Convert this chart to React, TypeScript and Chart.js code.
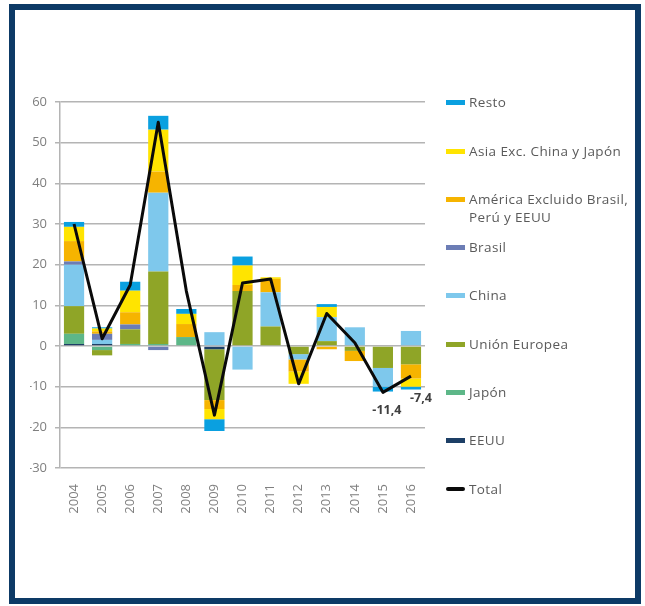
import React, { useEffect, useRef } from "react";
import { Chart, registerables } from "chart.js";

Chart.register(...registerables);

const years = ["2004","2005","2006","2007","2008","2009","2010","2011","2012","2013","2014","2015","2016"];
const eeuu =    [0.5, 0.5, 0,   0,    0,   -0.8, 0,    0,   0,    0,    0,    0,    0];
const japon =   [2.5, -1,  0.5, 0.5,  2.2, 0,    0,    0,   0,    0,    0,    0,    0];
const ue =      [6.8, -1.3,3.6, 17.8, 0,   -12.5,13.5, 4.8, -2,   1.2,  -1.2, -5.4, -4.5];
const china =   [10.2,1,   0,   19.4, 0,   3.4,  -5.8, 8.4, -1.3, 5.9,  4.6,  -4.6, 3.7];
const brasil =  [0.8, 1.5, 1.2, -1,   0,   0,    0,    0,   0,    0,    0,    0,    0];
const america = [5,   0.6, 3,   5.2,  3.2, -2.2, 1.5,  3.3, -3,   -0.8, -2.5, 0,    -3.5];
const asia =    [3.5, 0.7, 5.3, 10.3, 2.5, -2.5, 4.8,  0.4, -3,   2.5,  0,    0,    -2];
const resto =   [1.2, 0.3, 2.2, 3.4,  1.2, -2.9, 2.2,  0,   0,    0.7,  0,    -1.2, -0.7];
const total =   [30,  1.8, 15,  55,   13.5,-17,  15.5, 16.5,-9.3, 8,    0.8,  -11.4,-7.4];
const yTicks = [-30, -20, -10, 0, 10, 20, 30, 40, 50, 60];
const pointLabels = [{ index: 11, text: "-11,4", dx: 4, dy: 18 }, { index: 12, text: "-7,4", dx: 10, dy: 22 }];

const legendItems = [
  { label: ["Resto"], color: "#0aa0e0", y: 102 },
  { label: ["Asia Exc. China y Japón"], color: "#ffe400", y: 151 },
  { label: ["América Excluido Brasil,", "Perú y EEUU"], color: "#f6b400", y: 199 },
  { label: ["Brasil"], color: "#6c7db5", y: 247 },
  { label: ["China"], color: "#7ec8ec", y: 295 },
  { label: ["Unión Europea"], color: "#8fa527", y: 344 },
  { label: ["Japón"], color: "#5db788", y: 392 },
  { label: ["EEUU"], color: "#1d3f66", y: 440 },
  { label: ["Total"], color: "#0a0a0a", y: 489, line: true },
];

export default function App() {
  const ref = useRef<HTMLCanvasElement>(null);
  useEffect(() => {
    const ctx = ref.current!.getContext("2d")!;
    const bar = (label: string, data: number[], color: string) => ({
      type: "bar" as const,
      label,
      data,
      backgroundColor: color,
      borderWidth: 0,
      stack: "s",
      order: 1,
      categoryPercentage: 1,
      barPercentage: 0.72,
    });
    const labelPlugin = {
      id: "pointLabels",
      afterDatasetsDraw(chart: any) {
        const meta = chart.getDatasetMeta(8);
        const c = chart.ctx;
        c.save();
        c.font = "bold 12.5px 'Open Sans', sans-serif";
        c.fillStyle = "#404040";
        c.textAlign = "center";
        c.textBaseline = "middle";
        pointLabels.forEach((p) => {
          const pt = meta.data[p.index];
          c.fillText(p.text, pt.x + p.dx, pt.y + p.dy);
        });
        c.restore();
      },
    };
    const tickFont = { family: "'Open Sans', sans-serif", size: 13 };
    const chart = new Chart(ctx, {
      type: "bar",
      data: {
        labels: years,
        datasets: [
          bar("EEUU", eeuu, "#1d3f66"),
          bar("Japón", japon, "#5db788"),
          bar("Unión Europea", ue, "#8fa527"),
          bar("China", china, "#7ec8ec"),
          bar("Brasil", brasil, "#6c7db5"),
          bar("América Excluido Brasil, Perú y EEUU", america, "#f6b400"),
          bar("Asia Exc. China y Japón", asia, "#ffe400"),
          bar("Resto", resto, "#0aa0e0"),
          {
            type: "line" as const,
            label: "Total",
            data: total,
            borderColor: "#0a0a0a",
            backgroundColor: "#0a0a0a",
            borderWidth: 3,
            pointRadius: 0,
            tension: 0,
            stack: "total",
            order: 0,
            borderJoinStyle: "round" as const,
          } as any,
        ],
      },
      options: {
        responsive: false,
        animation: false,
        layout: { padding: { left: 30, top: 102, right: 220, bottom: 88 } },
        plugins: { legend: { display: false }, tooltip: { enabled: false } },
        scales: {
          x: {
            stacked: true,
            grid: { display: false },
            border: { display: false },
            ticks: {
              minRotation: 90,
              maxRotation: 90,
              padding: 8,
              color: "#7f7f7f",
              font: tickFont,
            },
            afterFit: (s: any) => { s.height = 50; },
          },
          y: {
            stacked: true,
            min: -30,
            max: 60,
            afterBuildTicks: (s: any) => { s.ticks = yTicks.map((v) => ({ value: v })); },
            grid: { color: "#b4b4b4", lineWidth: 1.5, tickLength: 5, drawTicks: true },
            border: { display: true, color: "#b4b4b4", width: 1.5 },
            ticks: {
              padding: 8,
              color: "#7f7f7f",
              font: tickFont,
            },
            afterFit: (s: any) => { s.width = 30; },
          },
        },
      },
      plugins: [labelPlugin],
    });
    return () => chart.destroy();
  }, []);

  return (
    <div style={{ position: "fixed", left: 0, top: 0, width: 645, height: 606, background: "#fff", overflow: "hidden" }}>
      <div style={{ position: "absolute", left: 9, top: 4, width: 620, height: 588, border: "6px solid #0d3a66" }} />
      <canvas ref={ref} width={645} height={606} style={{ position: "absolute", left: 0, top: 0, width: 645, height: 606 }} />
      {legendItems.map((it, i) => (
        <div key={i} style={{ position: "absolute", left: 446, top: it.y - 9, fontFamily: "'Open Sans', sans-serif", fontSize: 13.5, letterSpacing: 0.4, color: "#5a5a5a", lineHeight: "18px", whiteSpace: "nowrap" }}>
          <span style={{ position: "absolute", left: 0, top: 7, width: 19, height: it.line ? 4 : 5, background: it.color, borderRadius: it.line ? 2 : 0 }} />
          {it.label.map((l, j) => (
            <div key={j} style={{ paddingLeft: 23 }}>{l}</div>
          ))}
        </div>
      ))}
    </div>
  );
}
